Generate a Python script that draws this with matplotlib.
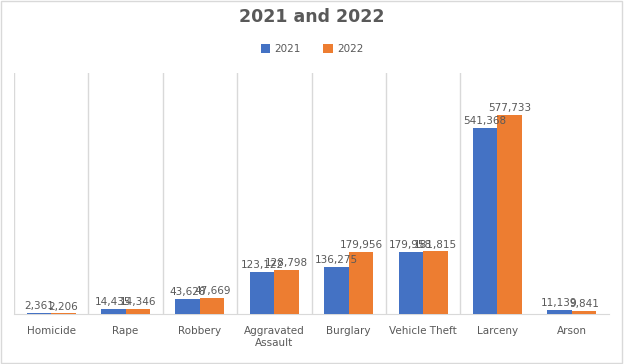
import numpy as np
import matplotlib.pyplot as plt
from matplotlib.patches import Rectangle

categories = ['Homicide', 'Rape', 'Robbery', 'Aggravated\nAssault', 'Burglary',
              'Vehicle Theft', 'Larceny', 'Arson']
vals_2021 = [2361, 14435, 43628, 123122, 136275, 179958, 541368, 11139]
vals_2022 = [2206, 14346, 47669, 128798, 179956, 181815, 577733, 9841]

blue = '#4472C4'
orange = '#ED7D31'
grey = '#595959'

fig = plt.figure(figsize=(6.24, 3.64), dpi=100)
ax = fig.add_axes([0.0224, 0.1374, 0.9536, 0.6621])

x = np.arange(len(categories))
w = 0.33
b1 = ax.bar(x - w/2, vals_2021, w, color=blue, label='2021', zorder=3)
b2 = ax.bar(x + w/2, vals_2022, w, color=orange, label='2022', zorder=3)

for bars, vals in [(b1, vals_2021), (b2, vals_2022)]:
    for r, v in zip(bars, vals):
        ax.text(r.get_x() + r.get_width()/2, v + 5000, f'{v:,}', ha='center', va='bottom',
                fontsize=7.5, color=grey, zorder=4)

# category separators
for i in range(len(categories) - 1):
    ax.axvline(i - 0.5, color='#D9D9D9', lw=1, zorder=1)

ax.set_xlim(-0.5, len(categories) - 0.5)
ax.set_ylim(0, 700000)
ax.set_yticks([])
ax.set_xticks(x)
ax.set_xticklabels(categories, fontsize=7.5, color=grey)
ax.tick_params(axis='x', length=0, pad=9)
for s in ['top', 'right', 'left']:
    ax.spines[s].set_visible(False)
ax.spines['bottom'].set_color('#D9D9D9')

fig.text(0.5, 0.953, '2021 and 2022', ha='center', va='center', fontsize=12.5,
         fontweight='bold', color=grey)
fig.legend(handles=[b1, b2], labels=['2021', '2022'], loc='center', bbox_to_anchor=(0.5, 0.866),
           ncol=2, frameon=False, fontsize=7.5, labelcolor=grey, handlelength=0.9,
           handleheight=0.9, handletextpad=0.4, columnspacing=2.2)

fig.patches.append(Rectangle((0.002, 0.003), 0.995, 0.993, transform=fig.transFigure,
                             fill=False, edgecolor='#D9D9D9', lw=1))

fig.savefig('out.png', dpi=100)
